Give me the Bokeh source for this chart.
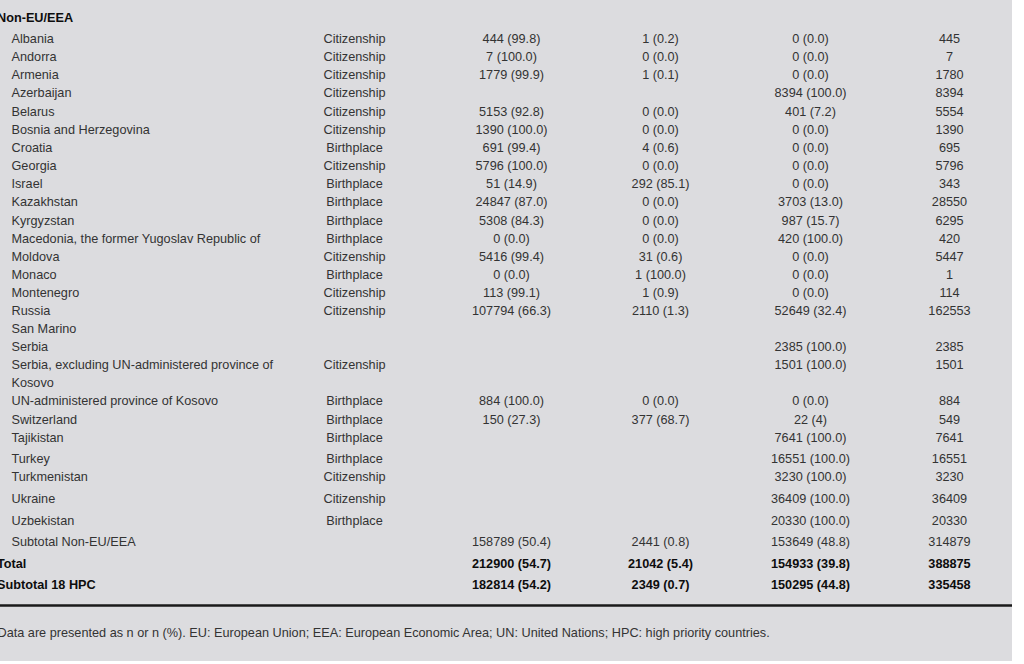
from bokeh.plotting import figure
from bokeh.models import Range1d, Span, ColumnDataSource
from bokeh.core.properties import value
from bokeh.embed import file_html
from bokeh.resources import INLINE

# ---------------- data ----------------
section_label = "Non-EU/EEA"
countries = ["Albania", "Andorra", "Armenia", "Azerbaijan", "Belarus",
             "Bosnia and Herzegovina", "Croatia", "Georgia", "Israel",
             "Kazakhstan", "Kyrgyzstan",
             "Macedonia, the former Yugoslav Republic of", "Moldova",
             "Monaco", "Montenegro", "Russia", "San Marino", "Serbia",
             "Serbia, excluding UN-administered province of", "Kosovo",
             "UN-administered province of Kosovo", "Switzerland",
             "Tajikistan", "Turkey", "Turkmenistan", "Ukraine",
             "Uzbekistan", "Subtotal Non-EU/EEA"]
basis = ["Citizenship", "Citizenship", "Citizenship", "Citizenship",
         "Citizenship", "Citizenship", "Birthplace", "Citizenship",
         "Birthplace", "Birthplace", "Birthplace", "Birthplace",
         "Citizenship", "Birthplace", "Citizenship", "Citizenship",
         "", "", "Citizenship", "", "Birthplace", "Birthplace",
         "Birthplace", "Birthplace", "Citizenship", "Citizenship",
         "Birthplace", ""]
group_a = ["444 (99.8)", "7 (100.0)", "1779 (99.9)", "", "5153 (92.8)",
           "1390 (100.0)", "691 (99.4)", "5796 (100.0)", "51 (14.9)",
           "24847 (87.0)", "5308 (84.3)", "0 (0.0)", "5416 (99.4)",
           "0 (0.0)", "113 (99.1)", "107794 (66.3)", "", "", "", "",
           "884 (100.0)", "150 (27.3)", "", "", "", "", "",
           "158789 (50.4)"]
group_b = ["1 (0.2)", "0 (0.0)", "1 (0.1)", "", "0 (0.0)", "0 (0.0)",
           "4 (0.6)", "0 (0.0)", "292 (85.1)", "0 (0.0)", "0 (0.0)",
           "0 (0.0)", "31 (0.6)", "1 (100.0)", "1 (0.9)", "2110 (1.3)",
           "", "", "", "", "0 (0.0)", "377 (68.7)", "", "", "", "", "",
           "2441 (0.8)"]
group_c = ["0 (0.0)", "0 (0.0)", "0 (0.0)", "8394 (100.0)", "401 (7.2)",
           "0 (0.0)", "0 (0.0)", "0 (0.0)", "0 (0.0)", "3703 (13.0)",
           "987 (15.7)", "420 (100.0)", "0 (0.0)", "0 (0.0)", "0 (0.0)",
           "52649 (32.4)", "", "2385 (100.0)", "1501 (100.0)", "",
           "0 (0.0)", "22 (4)", "7641 (100.0)", "16551 (100.0)",
           "3230 (100.0)", "36409 (100.0)", "20330 (100.0)",
           "153649 (48.8)"]
totals = ["445", "7", "1780", "8394", "5554", "1390", "695", "5796",
          "343", "28550", "6295", "420", "5447", "1", "114", "162553",
          "", "2385", "1501", "", "884", "549", "7641", "16551", "3230",
          "36409", "20330", "314879"]

summary_labels = ["Total", "Subtotal 18 HPC"]
summary_a = ["212900 (54.7)", "182814 (54.2)"]
summary_b = ["21042 (5.4)", "2349 (0.7)"]
summary_c = ["154933 (39.8)", "150295 (44.8)"]
summary_tot = ["388875", "335458"]

footnote = ("Data are presented as n or n (%). EU: European Union; "
            "EEA: European Economic Area; UN: United Nations; "
            "HPC: high priority countries.")

# ---------------- layout ----------------
X0, Y0 = -8, -8          # page offset of the figure's top-left corner
XR, YB = 1012, 661       # right / bottom edge of the grey panel
row_y = [38, 56, 74, 92, 111, 129, 147, 165, 183, 201, 220, 238, 256, 274,
         292, 310, 328, 346, 364, 382, 400, 419, 437, 458, 476, 498, 520, 541]
summary_y = [563, 584]
x_name, x_basis, x_a, x_b, x_c, x_tot = 11, 354, 511, 660, 810, 949
BG = "#dcdcdf"
FONT = value("Liberation Sans")
FS = "12.7px"
REG = "#333333"
BOLD = "#0d0d0d"

p = figure(width=XR - X0, height=YB - Y0, output_backend="svg",
           toolbar_location=None,
           x_range=Range1d(X0, XR), y_range=Range1d(YB, Y0),
           min_border=0, outline_line_color=None,
           background_fill_color=BG, border_fill_color=BG)
p.axis.visible = False
p.grid.visible = False
p.margin = (-8, 0, 0, -8)

src = ColumnDataSource(dict(y=row_y, name=countries, basis=basis,
                            a=group_a, b=group_b, c=group_c, t=totals))

def col(field, x, align, source, color, style="normal"):
    p.text(x=x, y="y", text=field, source=source, text_font=FONT,
           text_font_size=FS, text_color=color, text_align=align,
           text_baseline="middle", text_font_style=style)

col("name", x_name, "left", src, REG)
col("basis", x_basis, "center", src, REG)
col("a", x_a, "center", src, REG)
col("b", x_b, "center", src, REG)
col("c", x_c, "center", src, REG)
col("t", x_tot, "center", src, REG)

sec = ColumnDataSource(dict(y=[17], name=[section_label]))
p.text(x=-3.5, y="y", text="name", source=sec, text_font=FONT,
       text_font_size=FS, text_color=BOLD, text_align="left",
       text_baseline="middle", text_font_style="bold")

ssrc = ColumnDataSource(dict(y=summary_y, name=summary_labels, a=summary_a,
                             b=summary_b, c=summary_c, t=summary_tot))
p.text(x=-3.5, y="y", text="name", source=ssrc, text_font=FONT,
       text_font_size=FS, text_color=BOLD, text_align="left",
       text_baseline="middle", text_font_style="bold")
col("a", x_a, "center", ssrc, BOLD, "bold")
col("b", x_b, "center", ssrc, BOLD, "bold")
col("c", x_c, "center", ssrc, BOLD, "bold")
col("t", x_tot, "center", ssrc, BOLD, "bold")

p.add_layout(Span(location=605, dimension="width", line_color="#1a1a1a",
                  line_width=2.5))

fsrc = ColumnDataSource(dict(y=[632], t=[footnote]))
p.text(x=-3, y="y", text="t", source=fsrc, text_font=FONT,
       text_font_size=FS, text_color=REG, text_align="left",
       text_baseline="middle")

open("out.html", "w").write(file_html(p, INLINE))
